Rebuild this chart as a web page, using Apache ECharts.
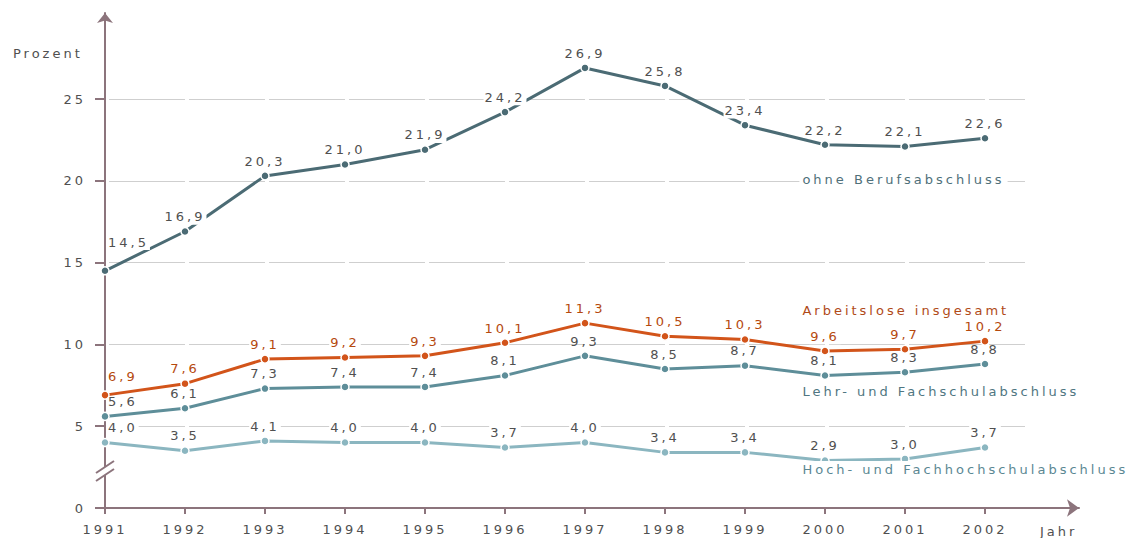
<!DOCTYPE html>
<html>
<head>
<meta charset="utf-8">
<script src="https://cdn.jsdelivr.net/npm/echarts@6/dist/echarts.min.js"></script>
<style>
  html, body { margin: 0; padding: 0; background: #fff; }
  #main { width: 1144px; height: 538px; }
  /* the original uses a wide, spaced-out bitmap font */
  #main text { letter-spacing: 3px; }
</style>
</head>
<body>
<div id="main"></div>
<script>
  const years = [1991, 1992, 1993, 1994, 1995, 1996, 1997, 1998, 1999, 2000, 2001, 2002]
  const ohneBerufsabschluss = [14.5, 16.9, 20.3, 21.0, 21.9, 24.2, 26.9, 25.8, 23.4, 22.2, 22.1, 22.6]
  const arbeitsloseInsgesamt = [6.9, 7.6, 9.1, 9.2, 9.3, 10.1, 11.3, 10.5, 10.3, 9.6, 9.7, 10.2]
  const lehrFachschule = [5.6, 6.1, 7.3, 7.4, 7.4, 8.1, 9.3, 8.5, 8.7, 8.1, 8.3, 8.8]
  const hochFachhochschule = [4.0, 3.5, 4.1, 4.0, 4.0, 3.7, 4.0, 3.4, 3.4, 2.9, 3.0, 3.7]
  const yTicks = [0, 5, 10, 15, 20, 25]
  const seriesNames = ['ohne Berufsabschluss', 'Arbeitslose insgesamt', 'Lehr- und Fachschulabschluss', 'Hoch- und Fachhochschulabschluss']

  const LS = 3
  const FONT = 'DejaVu Sans'
  const axisColor = '#8c747c'
  const textGray = '#505050'

  // text widths have to include the letter spacing, otherwise label boxes are too narrow
  const measureCtx = document.createElement('canvas').getContext('2d')
  if (echarts.setPlatformAPI) {
    echarts.setPlatformAPI({
      measureText (text, font) {
        measureCtx.font = font || '12px sans-serif'
        return { width: measureCtx.measureText(text).width + LS * text.length }
      }
    })
  }

  const fmt = v => v.toFixed(1).replace('.', ',')

  // first point sits on the y axis, so its label is pushed to the right
  function buildData (values, firstLift) {
    return years.map((y, i) => {
      const item = { value: [y, values[i]] }
      if (i === 0) item.label = { align: 'left', offset: [2, -firstLift] }
      return item
    })
  }

  function makeSeries (idx, values, color, labelColor, nameColor, namePos, firstLift, labelBg) {
    return {
      name: seriesNames[idx],
      type: 'line',
      xAxisIndex: 0,
      yAxisIndex: 0,
      clip: false,
      data: buildData(values, firstLift),
      symbol: 'circle',
      symbolSize: 8,
      lineStyle: { color: color, width: 3 },
      itemStyle: { color: color, borderColor: '#fff', borderWidth: 1.5 },
      label: {
        show: true,
        position: 'top',
        distance: 2,
        color: labelColor,
        fontSize: 13,
        fontFamily: FONT,
        backgroundColor: labelBg ? '#fff' : 'transparent',
        padding: [0, 1],
        formatter: p => fmt(p.value[1])
      },
      markPoint: {
        symbol: 'circle',
        symbolSize: 0,
        silent: true,
        data: [{ coord: namePos, value: 0 }],
        label: {
          show: true,
          position: 'right',
          distance: 0,
          formatter: seriesNames[idx],
          color: nameColor,
          fontSize: 13,
          fontFamily: FONT,
          backgroundColor: '#fff',
          padding: [0, 3]
        }
      }
    }
  }

  const chart = echarts.init(document.getElementById('main'), null, { renderer: 'svg' })
  chart.setOption({
    animation: false,
    textStyle: { fontFamily: FONT, fontSize: 13 },
    title: [
      { text: 'Prozent', left: 8, top: 40, textStyle: { color: textGray, fontSize: 13, fontWeight: 'normal', fontFamily: FONT } },
      { text: 'Jahr', left: 1035, top: 518, textStyle: { color: textGray, fontSize: 13, fontWeight: 'normal', fontFamily: FONT } }
    ],
    grid: [
      // plot area: 0..25 on y, gridlines end a bit after 2002
      { left: 105, right: 119, top: 99, bottom: 30 },
      // frame with the arrowed axes, same scale
      { left: 105, right: 65, top: 13, bottom: 30 }
    ],
    xAxis: [
      {
        type: 'value',
        gridIndex: 0,
        min: 1991,
        max: 2002.5,
        axisLine: { show: false },
        axisTick: { show: true, length: 6, customValues: years, lineStyle: { color: axisColor, width: 2 } },
        axisLabel: { customValues: years, formatter: v => String(v), margin: 13, color: textGray, fontSize: 13, fontFamily: FONT },
        splitLine: { show: false }
      },
      {
        type: 'value',
        gridIndex: 1,
        min: 1991,
        max: 2003.175,
        axisLine: { show: true, symbol: ['none', 'arrow'], symbolSize: [13, 12], lineStyle: { color: axisColor, width: 2 } },
        axisTick: { show: false },
        axisLabel: { show: false },
        splitLine: { show: false }
      }
    ],
    yAxis: [
      {
        type: 'value',
        gridIndex: 0,
        min: 0,
        max: 25,
        interval: 5,
        axisLine: { show: false },
        axisTick: { show: true, length: 10, customValues: yTicks, lineStyle: { color: axisColor, width: 2 } },
        axisLabel: { customValues: yTicks, margin: 19, color: textGray, fontSize: 13, fontFamily: FONT },
        splitLine: {
          show: true,
          showMinLine: false,
          lineStyle: { color: '#cfcfcf', width: 1, type: [76, 4], dashOffset: 76 }
        }
      },
      {
        type: 'value',
        gridIndex: 1,
        min: 0,
        max: 30.26,
        axisLine: { show: true, symbol: ['none', 'arrow'], symbolSize: [12, 10], lineStyle: { color: axisColor, width: 2 } },
        axisTick: { show: false },
        axisLabel: { show: false },
        splitLine: { show: false }
      }
    ],
    // axis break on the y axis between 0 and 5
    graphic: [
      { type: 'polygon', z: 100, shape: { points: [[96, 473], [114, 461], [114, 469], [96, 481]] }, style: { fill: '#fff' } },
      { type: 'line', z: 101, shape: { x1: 96, y1: 473, x2: 114, y2: 461 }, style: { stroke: axisColor, lineWidth: 2 } },
      { type: 'line', z: 101, shape: { x1: 96, y1: 481, x2: 114, y2: 469 }, style: { stroke: axisColor, lineWidth: 2 } }
    ],
    series: [
      makeSeries(0, ohneBerufsabschluss, '#4b6b74', textGray, '#4f707a', [1999.68, 20.1], 14, true),
      makeSeries(1, arbeitsloseInsgesamt, '#d2541a', '#b5490e', '#b04a18', [1999.68, 12.1], 4, true),
      makeSeries(2, lehrFachschule, '#5e8e99', textGray, '#4f7681', [1999.68, 7.15], 0, false),
      makeSeries(3, hochFachhochschule, '#8bb6c0', textGray, '#5b8893', [1999.68, 2.38], 0, true)
    ]
  })
</script>
</body>
</html>
